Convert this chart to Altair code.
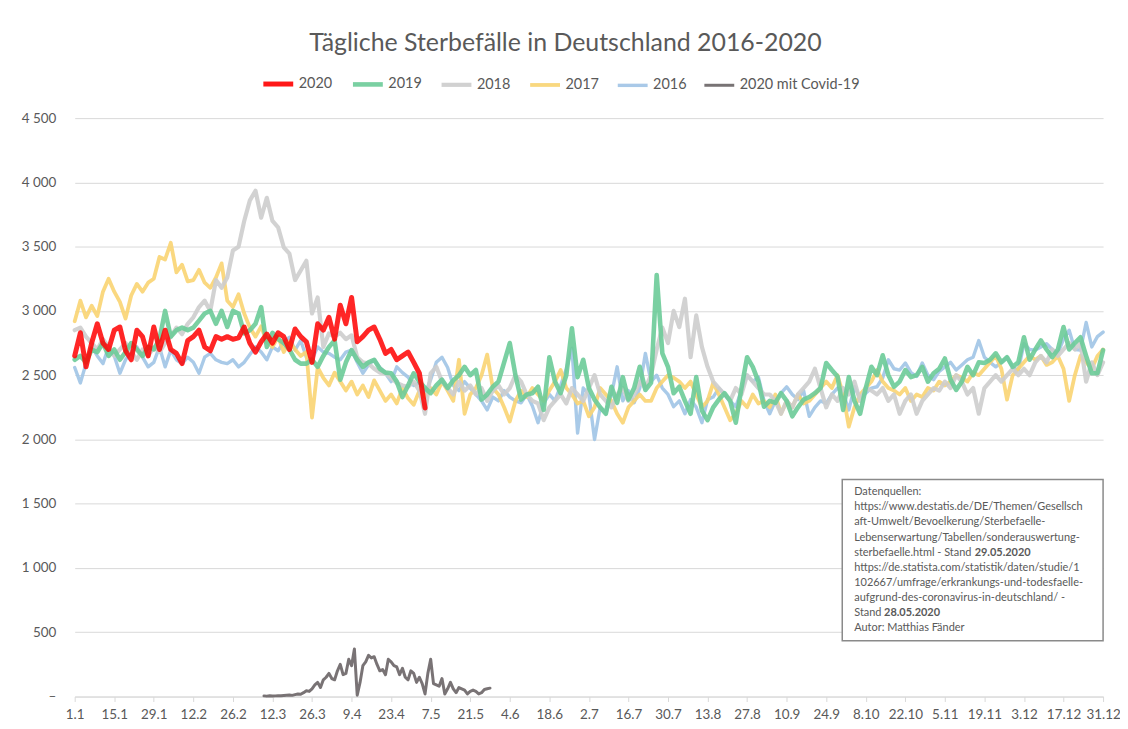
import json
import altair as alt
import pandas as pd

# ---------------- data ----------------
series_order = ["2020", "2019", "2018", "2017", "2016", "2020 mit Covid-19"]
series_colors = ["#ff0000", "#6ccb98", "#cdcdcd", "#f9d472", "#a0c4e6", "#6a6466"]
series_widths = [5, 3, 3, 3, 3, 5]

x_tick_labels = ["1.1", "15.1", "29.1", "12.2", "26.2", "12.3", "26.3", "9.4", "23.4",
                 "7.5", "21.5", "4.6", "18.6", "2.7", "16.7", "30.7", "13.8", "27.8",
                 "10.9", "24.9", "8.10", "22.10", "5.11", "19.11", "3.12", "17.12", "31.12"]

# day index (0 = 1.1) every second day
days_2 = list(range(0, 365, 2))

y2016 = [2560, 2440, 2590, 2720, 2650, 2590, 2720,
         2650, 2515, 2620, 2680, 2720, 2640, 2565,
         2600, 2720, 2565, 2695, 2620, 2590, 2640,
         2600, 2515, 2640, 2670, 2620, 2600, 2590,
         2620, 2565, 2600, 2660, 2720, 2680, 2620,
         2720, 2690, 2760, 2795, 2695, 2770, 2640,
         2620, 2720, 2680, 2670, 2640, 2620, 2680,
         2695, 2600, 2515, 2580, 2620, 2560, 2515,
         2450, 2565, 2520, 2485, 2420, 2440, 2360,
         2465, 2600, 2640, 2560, 2420, 2380, 2450,
         2400, 2350, 2300, 2230, 2330, 2300, 2380,
         2330, 2300, 2285, 2350, 2260, 2130, 2280,
         2350, 2300, 2420, 2550, 2710, 2050, 2400,
         2350, 2000, 2250, 2200, 2350, 2565, 2300,
         2380, 2285, 2400, 2670, 2450, 2500, 2400,
         2350, 2255, 2300, 2200, 2310, 2250, 2130,
         2310, 2330, 2400, 2350, 2300, 2255, 2380,
         2500, 2450, 2485, 2300, 2200, 2300, 2360,
         2410, 2350, 2310, 2380, 2180, 2250, 2300,
         2280, 2350, 2400, 2360, 2230, 2410, 2320,
         2360, 2400, 2410, 2480, 2620, 2550, 2540,
         2595, 2520, 2490, 2595, 2500, 2465, 2530,
         2565, 2600, 2540, 2580, 2620, 2640, 2770,
         2640, 2600, 2565, 2600, 2640, 2560, 2540,
         2745, 2700, 2695, 2720, 2745, 2700, 2670,
         2780, 2850, 2700, 2695, 2910, 2720, 2800,
         2835]

y2017 = [2920, 3080, 2950, 3040, 2960, 3150, 3250,
         3150, 3070, 2940, 3120, 3210, 3150, 3220,
         3250, 3420, 3400, 3530, 3300, 3360, 3230,
         3240, 3320, 3220, 3180, 3260, 3370, 3080,
         3030, 3130, 2980, 2870, 2800, 2880, 2760,
         2720, 2800, 2680, 2760, 2700, 2650, 2680,
         2170, 2560, 2480, 2420, 2520, 2450, 2380,
         2450, 2350, 2420, 2330, 2460, 2380, 2300,
         2350, 2280, 2400, 2320, 2270, 2380, 2330,
         2400, 2350, 2450, 2380, 2300, 2620, 2200,
         2350, 2400, 2500, 2660, 2400, 2350, 2250,
         2140, 2300, 2380, 2330, 2400, 2350, 2300,
         2380, 2450, 2540, 2400, 2350, 2280, 2300,
         2180, 2250, 2400, 2350, 2300, 2200, 2130,
         2250, 2300, 2350, 2300, 2300, 2400, 2450,
         2500, 2480, 2450, 2400, 2450, 2350, 2250,
         2300, 2440, 2350, 2250, 2150, 2200, 2300,
         2250, 2350, 2280, 2300, 2250, 2350, 2200,
         2300, 2250, 2350, 2280, 2300, 2350, 2400,
         2450, 2400, 2500, 2350, 2100, 2250, 2350,
         2400, 2450, 2540, 2450, 2400, 2380, 2350,
         2400, 2300, 2350, 2330, 2400, 2380, 2450,
         2420, 2450, 2500, 2480, 2450, 2520, 2500,
         2550, 2600, 2650, 2550, 2310, 2500, 2550,
         2600, 2650, 2620, 2650, 2580, 2600, 2650,
         2550, 2300, 2500, 2650, 2600, 2550, 2650,
         2700]

y2018 = [2850, 2870, 2800, 2750, 2700, 2780, 2720,
         2650, 2700, 2750, 2680, 2620, 2700, 2650,
         2720, 2680, 2750, 2800, 2870, 2820, 2900,
         2950, 3030, 3080, 3000, 3240, 3180, 3260,
         3470, 3500, 3700, 3860, 3935, 3725, 3880,
         3700, 3650, 3495, 3445, 3240, 3315, 3390,
         2980, 3105, 2720, 2825, 2800, 2830, 2780,
         2810, 2640, 2600, 2590, 2550, 2520, 2515,
         2480, 2440, 2420, 2410, 2450, 2380, 2200,
         2515, 2565, 2450, 2400, 2350, 2450, 2380,
         2420, 2350, 2400, 2300, 2380, 2420, 2350,
         2400, 2500, 2450, 2350, 2300, 2280, 2150,
         2250, 2300, 2350, 2280, 2400, 2350, 2300,
         2400, 2500, 2350, 2300, 2250, 2350, 2400,
         2300, 2350, 2450, 2400, 2500, 2700, 2870,
         2750, 3000, 2875, 3095, 2640, 2965, 2720,
         2565, 2450, 2400, 2350, 2300, 2400, 2350,
         2500, 2450, 2400, 2350, 2350, 2300, 2200,
         2300, 2250, 2350, 2400, 2450, 2550, 2400,
         2250, 2350, 2300, 2400, 2350, 2450, 2300,
         2400, 2380, 2350, 2400, 2300, 2350, 2200,
         2300, 2350, 2200, 2300, 2350, 2400, 2380,
         2450, 2400, 2500, 2450, 2350, 2400, 2200,
         2400, 2450, 2500, 2450, 2500, 2550, 2500,
         2550, 2500, 2600, 2650, 2600, 2700, 2650,
         2700, 2750, 2700, 2750, 2450, 2600, 2500,
         2600]

y2019 = [2620, 2650, 2600, 2700, 2680, 2750, 2650,
         2700, 2620, 2680, 2750, 2700, 2650, 2720,
         2700, 2780, 3000, 2800, 2850, 2870, 2850,
         2870, 2925, 2980, 3000, 2900, 3000, 2875,
         3000, 2980, 2825, 2850, 2900, 3030, 2720,
         2830, 2780, 2750, 2700, 2620, 2590, 2590,
         2620, 2565, 2650, 2720, 2770, 2465, 2600,
         2695, 2620, 2565, 2600, 2620, 2550, 2520,
         2515, 2450, 2330, 2420, 2515, 2450, 2400,
         2360, 2420, 2465, 2400, 2460, 2500, 2565,
         2500, 2540, 2310, 2350, 2410, 2450, 2600,
         2750, 2500, 2310, 2350, 2360, 2410, 2230,
         2640, 2450, 2360, 2500, 2865, 2485, 2620,
         2400, 2310, 2250, 2200, 2410, 2285, 2485,
         2310, 2400, 2565, 2385, 2440, 3280, 2670,
         2565, 2360, 2410, 2300, 2200, 2485, 2225,
         2150, 2250, 2310, 2360, 2300, 2130, 2400,
         2640, 2565, 2450, 2255, 2300, 2285, 2360,
         2300, 2180, 2250, 2310, 2330, 2360, 2400,
         2595, 2540, 2490, 2230, 2485, 2300, 2200,
         2400, 2565, 2500, 2655, 2500, 2410, 2450,
         2540, 2485, 2500, 2565, 2450, 2515, 2550,
         2630, 2465, 2385, 2450, 2565, 2500, 2600,
         2595, 2620, 2670, 2600, 2640, 2565, 2600,
         2795, 2620, 2700, 2770, 2700, 2640, 2700,
         2875, 2700, 2750, 2795, 2650, 2515, 2515,
         2695]

# 2020: every second day from 1.1 up to ~5.5
y2020 = [2650, 2830, 2565, 2750, 2900, 2750, 2700,
         2850, 2875, 2690, 2620, 2850, 2800, 2650,
         2875, 2700, 2850, 2700, 2670, 2590, 2770,
         2800, 2850, 2720, 2690, 2800, 2780, 2800,
         2780, 2790, 2875, 2750, 2680, 2760, 2820,
         2750, 2830, 2800, 2700, 2860, 2800, 2760,
         2600, 2900, 2850, 2950, 2780, 3045, 2900,
         3105, 2760, 2800, 2850, 2875, 2780, 2670,
         2700, 2620, 2650, 2680, 2600, 2515, 2245]

# 2020 Covid-19 deaths, daily from day 67 (9.3)
covid_start = 67
y_covid = [5, 3, 6, 4, 5, 7, 6, 8, 10, 12,
           9, 15, 20, 18, 30, 45, 40, 60, 90, 110,
           70, 130, 150, 180, 140, 130, 200, 250, 170, 180,
           290, 240, 370, 10, 110, 240, 270, 320, 300, 310,
           250, 200, 210, 170, 290, 270, 240, 230, 170, 220,
           150, 130, 200, 180, 110, 150, 100, 20, 180, 290,
           100, 90, 80, 140, 20, 60, 110, 60, 30, 70,
           60, 50, 20, 40, 50, 40, 20, 30, 55, 60, 65]

source_lines = ["Datenquellen:",
                "https://www.destatis.de/DE/Themen/Gesellsch",
                "aft-Umwelt/Bevoelkerung/Sterbefaelle-",
                "Lebenserwartung/Tabellen/sonderauswertung-",
                "sterbefaelle.html - Stand",
                "https://de.statista.com/statistik/daten/studie/1",
                "102667/umfrage/erkrankungs-und-todesfaelle-",
                "aufgrund-des-coronavirus-in-deutschland/   -",
                "Stand",
                "Autor: Matthias Fänder"]
bold_parts = {4: "29.05.2020", 8: "28.05.2020"}

title_text = "Tägliche Sterbefälle in Deutschland 2016-2020"

# ---------------- build table ----------------
rows = []
for name, vals in [("2016", y2016), ("2017", y2017), ("2018", y2018), ("2019", y2019)]:
    for d, v in zip(days_2, vals):
        rows.append({"series": name, "day": d, "value": v})
for d, v in zip(days_2, y2020):
    rows.append({"series": "2020", "day": d, "value": v})
for i, v in enumerate(y_covid):
    rows.append({"series": "2020 mit Covid-19", "day": covid_start + i, "value": v})
df = pd.DataFrame(rows)

FONT = "Lato"
TXT = "#595959"
W, H = 1033, 581

color_scale = alt.Scale(domain=series_order, range=series_colors)
width_scale = alt.Scale(domain=series_order, range=series_widths)
x_scale = alt.Scale(domain=[0, 364], nice=False, zero=False)
y_scale = alt.Scale(domain=[0, 4500], nice=False)

label_arr = json.dumps(x_tick_labels)
x_axis = alt.Axis(values=list(range(0, 365, 14)),
                  labelExpr=f"{label_arr}[round(datum.value / 14)]",
                  grid=False, domainColor="#d9d9d9", tickColor="#d9d9d9", tickSize=5,
                  labelFont=FONT, labelFontSize=13.5, labelColor=TXT, labelPadding=6,
                  labelOverlap=False, labelFlush=False, title=None)
y_axis = alt.Axis(values=list(range(0, 4501, 500)),
                  labelExpr="datum.value == 0 ? '–' : replace(format(datum.value, ','), ',', ' ')",
                  grid=True, gridColor="#d9d9d9", domain=False, ticks=False,
                  labelFont=FONT, labelFontSize=13.5, labelColor=TXT, labelPadding=19, title=None)

legend = alt.Legend(title=None, orient="none", legendX=187, legendY=-52, direction="horizontal",
                    symbolType="stroke", symbolSize=900,
                    labelFont=FONT, labelFontSize=14.5, labelColor=TXT, labelOffset=3,
                    columnPadding=11, columns=6)

base = alt.Chart(df)
layers = []
draw_order = ["2016", "2017", "2018", "2019", "2020", "2020 mit Covid-19"]
opac = {"2020": 0.85}
for name in draw_order:
    layers.append(
        base.transform_filter(alt.datum.series == name)
        .mark_line(opacity=opac.get(name, 0.9), strokeJoin="round", strokeCap="round")
        .encode(x=alt.X("day:Q", scale=x_scale, axis=x_axis),
                y=alt.Y("value:Q", scale=y_scale, axis=y_axis),
                color=alt.Color("series:N", scale=color_scale, legend=legend),
                strokeWidth=alt.StrokeWidth("series:N", scale=width_scale, legend=legend))
    )

one = pd.DataFrame({"a": [0]})

# title
title_layer = alt.Chart(one).mark_text(font=FONT, fontSize=25, color=TXT, align="center",
                                       baseline="middle", text=title_text).encode(
    x=alt.value(493), y=alt.value(-75))

# source box
box = alt.Chart(one).mark_rect(fill="white", stroke="#8a8a8a", strokeWidth=1.5).encode(
    x=alt.value(771), x2=alt.value(1033), y=alt.value(363), y2=alt.value(525))

text_layers = []
for i, line in enumerate(source_lines):
    text_layers.append(
        alt.Chart(one).mark_text(font=FONT, fontSize=11, color=TXT, align="left",
                                 baseline="middle", text=line).encode(
            x=alt.value(783), y=alt.value(376 + 15.1 * i)))
bold_x = {4: 783 + 121, 8: 783 + 30}
for k, txt in bold_parts.items():
    text_layers.append(
        alt.Chart(one).mark_text(font=FONT, fontSize=11, fontWeight="bold", color=TXT,
                                 align="left", baseline="middle", text=txt).encode(
            x=alt.value(bold_x[k]), y=alt.value(376 + 15.1 * k)))

chart = alt.layer(*layers, box, *text_layers, title_layer).properties(
    width=W, height=H, autosize=alt.AutoSizeParams(type="none"),
    padding={"left": 67, "top": 109, "right": 17, "bottom": 30},
    background="white",
).configure_view(stroke=None)

chart.save("out.html", embed_options={"renderer": "svg", "actions": False})
